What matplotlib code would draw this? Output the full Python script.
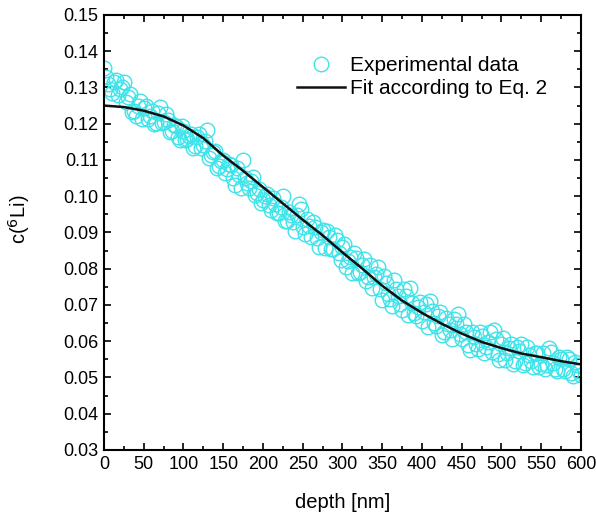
import numpy as np
import matplotlib
matplotlib.use("Agg")
import matplotlib.pyplot as plt
from matplotlib.ticker import MultipleLocator

plt.rcParams['font.family'] = ['Liberation Sans', 'DejaVu Sans']

##Experimental data (depth in nm, concentration), two interleaved scans##
depth_a = np.arange(0, 601, 5)
conc_a = [0.1355, 0.1310, 0.1284, 0.1320, 0.1297, 0.1314, 0.1274, 0.1232, 0.1222, 0.1263,
          0.1244, 0.1213, 0.1235, 0.1201, 0.1245, 0.1205, 0.1210, 0.1180, 0.1195, 0.1155,
          0.1180, 0.1158, 0.1171, 0.1139, 0.1172, 0.1140, 0.1183, 0.1113, 0.1126, 0.1082,
          0.1100, 0.1074, 0.1087, 0.1032, 0.1058, 0.1100, 0.1036, 0.1042, 0.1003, 0.1019,
          0.0990, 0.1006, 0.0962, 0.0978, 0.0954, 0.1000, 0.0931, 0.0947, 0.0903, 0.0979,
          0.0915, 0.0936, 0.0888, 0.0914, 0.0861, 0.0907, 0.0905, 0.0853, 0.0894, 0.0844,
          0.0860, 0.0806, 0.0832, 0.0843, 0.0789, 0.0810, 0.0766, 0.0811, 0.0777, 0.0804,
          0.0713, 0.0760, 0.0717, 0.0768, 0.0725, 0.0687, 0.0725, 0.0746, 0.0677, 0.0695,
          0.0656, 0.0702, 0.0711, 0.0650, 0.0669, 0.0618, 0.0663, 0.0632, 0.0662, 0.0676,
          0.0606, 0.0626, 0.0577, 0.0612, 0.0578, 0.0613, 0.0585, 0.0626, 0.0630, 0.0564,
          0.0591, 0.0548, 0.0580, 0.0537, 0.0584, 0.0591, 0.0539, 0.0562, 0.0530, 0.0568,
          0.0536, 0.0522, 0.0580, 0.0539, 0.0517, 0.0550, 0.0518, 0.0551, 0.0505, 0.0533,
          0.0506]
depth_b = np.arange(2.5, 600, 5)
conc_b = [0.1330, 0.1295, 0.1314, 0.1278, 0.1302, 0.1260, 0.1283, 0.1236, 0.1249, 0.1212,
          0.1250, 0.1222, 0.1198, 0.1230, 0.1202, 0.1228, 0.1178, 0.1196, 0.1163, 0.1193,
          0.1154, 0.1165, 0.1133, 0.1163, 0.1134, 0.1153, 0.1106, 0.1121, 0.1077, 0.1097,
          0.1063, 0.1090, 0.1051, 0.1078, 0.1024, 0.1051, 0.1022, 0.1053, 0.1009, 0.0980,
          0.1001, 0.0977, 0.0995, 0.0954, 0.0970, 0.0931, 0.0957, 0.0928, 0.0947, 0.0965,
          0.0896, 0.0917, 0.0929, 0.0885, 0.0902, 0.0858, 0.0888, 0.0854, 0.0879, 0.0825,
          0.0869, 0.0822, 0.0788, 0.0829, 0.0790, 0.0826, 0.0778, 0.0747, 0.0785, 0.0743,
          0.0779, 0.0731, 0.0698, 0.0744, 0.0704, 0.0744, 0.0672, 0.0705, 0.0669, 0.0707,
          0.0680, 0.0639, 0.0683, 0.0642, 0.0681, 0.0626, 0.0648, 0.0605, 0.0647, 0.0619,
          0.0647, 0.0589, 0.0625, 0.0593, 0.0626, 0.0567, 0.0598, 0.0570, 0.0606, 0.0548,
          0.0610, 0.0567, 0.0592, 0.0546, 0.0573, 0.0535, 0.0583, 0.0546, 0.0567, 0.0529,
          0.0567, 0.0535, 0.0571, 0.0523, 0.0556, 0.0524, 0.0557, 0.0513, 0.0544, 0.0517]
depth = np.concatenate([depth_a, depth_b])
conc = np.concatenate([conc_a, conc_b])

##Fit according to Eq. 2##
fit_depth = np.arange(0, 601, 25)
fit_conc = [0.1250, 0.1246, 0.1236, 0.1220, 0.1195, 0.1160, 0.1112, 0.1070, 0.1025,
            0.0980, 0.0935, 0.0892, 0.0845, 0.0800, 0.0753, 0.0712, 0.0678, 0.0648,
            0.0621, 0.0598, 0.0581, 0.0566, 0.0556, 0.0545, 0.0536]

fig = plt.figure(figsize=(5.96, 5.16), dpi=100)
ax = fig.add_axes([0.1745, 0.128, 0.8003, 0.843])

ax.plot(depth, conc, linestyle='none', marker='o', markersize=10.5,
        markerfacecolor='none', markeredgecolor='#3fe3ea', markeredgewidth=1.0,
        label='Experimental data')
ax.plot(fit_depth, fit_conc, color='#111111', linewidth=1.8,
        label='Fit according to Eq. 2')

ax.set_xlim(0, 600)
ax.set_ylim(0.03, 0.15)
ax.xaxis.set_major_locator(MultipleLocator(50))
ax.xaxis.set_minor_locator(MultipleLocator(25))
ax.yaxis.set_major_locator(MultipleLocator(0.01))
ax.yaxis.set_minor_locator(MultipleLocator(0.005))
ax.yaxis.set_major_formatter(plt.FuncFormatter(lambda v, p: "%.2f" % v))

ax.tick_params(which='both', direction='in', top=True, right=True,
               labelsize=13, width=1.2)
ax.tick_params(which='major', length=5, pad=4)
ax.tick_params(which='minor', length=3)
for s in ax.spines.values():
    s.set_linewidth(1.5)

ax.set_xlabel('depth [nm]', fontsize=14.5, labelpad=15)
ax.set_ylabel('c($^{6}$Li)', fontsize=14.5, labelpad=24)
ax.yaxis.set_label_coords(-0.15, 0.53)

ax.legend(loc='upper left', frameon=False, fontsize=15, handlelength=2.3,
          handletextpad=0.25, labelspacing=0.2, borderpad=0, borderaxespad=0,
          bbox_to_anchor=(0.405, 0.905))

##Save plot##
fig.savefig('out.png', dpi=100)
